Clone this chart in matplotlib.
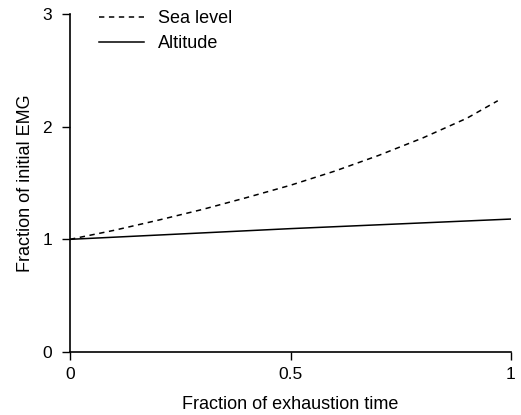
import matplotlib
matplotlib.use("Agg")
import matplotlib.pyplot as plt

plt.rcParams['font.family'] = ['Liberation Sans', 'DejaVu Sans']

# values
sea_x = [0, 0.1, 0.2, 0.3, 0.4, 0.5, 0.6, 0.7, 0.8, 0.9, 0.97]
sea_y = [1.0, 1.08, 1.17, 1.265, 1.37, 1.48, 1.605, 1.745, 1.90, 2.075, 2.23]
alt_x = [0, 0.5, 1.0]
alt_y = [1.0, 1.095, 1.18]

xticks = [0, 0.5, 1]
xtick_labels = ["0", "0.5", "1"]
yticks = [0, 1, 2, 3]

fig = plt.figure(figsize=(5.21, 4.15), dpi=100)
ax = fig.add_axes([70 / 521, 63 / 415, 441 / 521, 338 / 415])

ax.plot(sea_x, sea_y, color="black", linestyle=(0, (3.5, 3)), linewidth=1.1, label="Sea level")
ax.plot(alt_x, alt_y, color="black", linestyle="-", linewidth=1.1, label="Altitude")

ax.set_xlim(0, 1)
ax.set_ylim(0, 3)
ax.set_xticks(xticks)
ax.set_xticklabels(xtick_labels)
ax.set_yticks(yticks)

for s in ["top", "right"]:
    ax.spines[s].set_visible(False)
for s in ["left", "bottom"]:
    ax.spines[s].set_linewidth(1.2)
ax.tick_params(direction="out", length=6, width=1.0, labelsize=12.5)
ax.tick_params(axis="y", pad=7)
ax.tick_params(axis="x", pad=5)

ax.set_xlabel("Fraction of exhaustion time", fontsize=13, labelpad=10)
ax.set_ylabel("Fraction of initial EMG", fontsize=13, labelpad=6)

ax.legend(loc="upper left", bbox_to_anchor=(0.028, 1.06), frameon=False, fontsize=13,
          handlelength=2.5, handletextpad=0.8, labelspacing=0.45)

fig.savefig("out.png", dpi=100)
